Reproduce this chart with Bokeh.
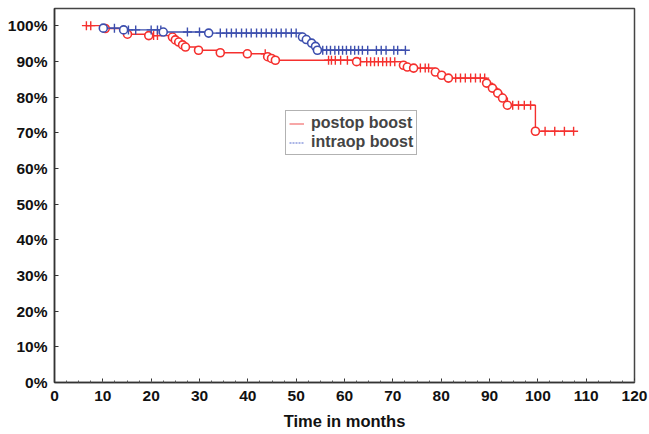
import numpy as np
from bokeh.plotting import figure
from bokeh.models import Range1d, FixedTicker, PrintfTickFormatter, Legend, LegendItem
from bokeh.embed import file_html
from bokeh.resources import INLINE

# ---- data: postop boost (red) ----
post_start = 6.4
post_event_t = [10.5, 15.1, 19.5, 24.4, 25.0, 25.7, 26.5, 27.1, 29.8, 34.3, 39.9,
                44.1, 44.9, 45.7, 62.5, 72.2, 73.0, 74.3, 78.8, 80.1, 81.5, 89.4,
                90.6, 91.7, 92.7, 93.7, 99.5]
post_event_s = [99.2, 97.6, 97.2, 96.8, 96.0, 95.4, 94.6, 94.0, 93.1, 92.4, 92.1,
                91.3, 90.8, 90.3, 89.9, 88.9, 88.4, 88.1, 87.0, 86.1, 85.3, 83.9,
                82.5, 81.1, 79.7, 77.7, 70.4]
post_cens_t = [6.6, 7.5, 20.5, 21.3, 43.6, 56.7, 57.3, 58.1, 59.2, 60.6, 63.3, 64.6,
               65.4, 66.2, 67.0, 67.9, 68.7, 69.5, 70.4, 75.7, 76.7, 77.4, 83.0, 84.0,
               85.0, 86.1, 87.1, 88.1, 89.0, 94.8, 96.0, 97.2, 98.5, 101.5, 103.5,
               105.5, 107.4]

# ---- data: intraop boost (blue) ----
intra_start = 9.6
intra_event_t = [10.1, 14.3, 22.5, 31.9, 51.3, 52.1, 53.2, 54.0, 54.4]
intra_event_s = [99.3, 98.8, 98.2, 97.9, 96.8, 96.1, 95.1, 94.2, 93.1]
intra_cens_t = [12.4, 15.3, 16.8, 20.0, 21.3, 22.0, 27.5, 30.0, 34.3, 35.6, 36.6,
                37.6, 38.7, 39.7, 40.7, 41.8, 42.8, 43.8, 44.9, 45.9, 46.9, 47.9,
                49.0, 50.0, 55.5, 56.3, 57.1, 58.0, 58.8, 59.6, 60.4, 61.3, 62.1,
                62.9, 63.7, 64.8, 66.6, 67.6, 68.6, 70.2, 71.0, 72.6]

series_names = ["postop boost", "intraop boost"]
x_ticks = list(range(0, 121, 10))
y_ticks = list(range(0, 101, 10))

RED = "#f5302e"
BLUE = "#3d4fae"
FONT = "Liberation Sans"

p = figure(width=649, height=434, output_backend="svg", toolbar_location=None,
           x_range=Range1d(0, 120), y_range=Range1d(0, 104.8),
           min_border_left=54, min_border_right=15, min_border_top=8,
           min_border_bottom=52)
p.grid.visible = False
p.outline_line_color = "#444444"
p.outline_line_width = 1.5
p.background_fill_color = "white"
p.border_fill_color = "white"


def level(ts, ss, t):
    idx = np.searchsorted(np.array(ts), t, side="right") - 1
    return 100.0 if idx < 0 else ss[idx]


def draw(start, et, es, ct, color):
    xs = [start] + et + [max(ct[-1], et[-1])]
    ys = [100.0] + es + [es[-1]]
    p.step(xs, ys, mode="after", line_color=color, line_width=1.4)
    cy = [level(et, es, t) for t in ct]
    p.scatter(ct, cy, marker="cross", size=9, line_color=color, line_width=1.4)
    p.scatter(et, es, marker="circle", size=8, line_color=color, line_width=1.6,
              fill_color="white")


draw(post_start, post_event_t, post_event_s, post_cens_t, RED)
draw(intra_start, intra_event_t, intra_event_s, intra_cens_t, BLUE)

# legend sample lines
r1 = p.line([0, 0], [0, 0], line_color="#f58a8a", line_width=1.5)
r2 = p.line([0, 0], [0, 0], line_color="#8f9dde", line_width=1.5, line_dash="2 1")
legend = Legend(items=[LegendItem(label=series_names[0], renderers=[r1]),
                       LegendItem(label=series_names[1], renderers=[r2])],
                location=(231, 227))
legend.label_text_font = FONT
legend.label_text_font_style = "bold"
legend.label_text_font_size = "16px"
legend.label_height = 17
legend.glyph_height = 17
legend.glyph_width = 15
legend.label_standoff = 7
legend.spacing = 1
legend.padding = 3
legend.margin = 0
legend.border_line_color = "#666666"
legend.border_line_width = 1.5
legend.background_fill_alpha = 1
p.add_layout(legend, "center")

for ax in (p.xaxis[0], p.yaxis[0]):
    ax.axis_line_color = "#333333"
    ax.axis_line_width = 1.5
    ax.major_tick_in = 4
    ax.major_tick_out = 0
    ax.minor_tick_in = 2
    ax.minor_tick_out = 0
    ax.major_tick_line_color = "#333333"
    ax.minor_tick_line_color = "#555555"
    ax.major_label_text_font = FONT
    ax.major_label_text_font_style = "bold"
    ax.major_label_text_font_size = "15.5px"
    ax.major_label_text_color = "#111111"

p.xaxis.ticker = FixedTicker(ticks=x_ticks, minor_ticks=list(np.arange(0, 121, 2.5)))
p.yaxis.ticker = FixedTicker(ticks=y_ticks, minor_ticks=[])
p.yaxis.formatter = PrintfTickFormatter(format="%d%%")
p.xaxis.major_label_standoff = 8
p.yaxis.major_label_standoff = 7
p.xaxis.axis_label = "Time in months"
p.xaxis.axis_label_text_font = FONT
p.xaxis.axis_label_text_font_style = "bold"
p.xaxis.axis_label_text_font_size = "16.5px"
p.xaxis.axis_label_standoff = 8
p.xaxis.axis_label_text_color = "#111111"

open("out.html", "w").write(file_html(p, INLINE))
